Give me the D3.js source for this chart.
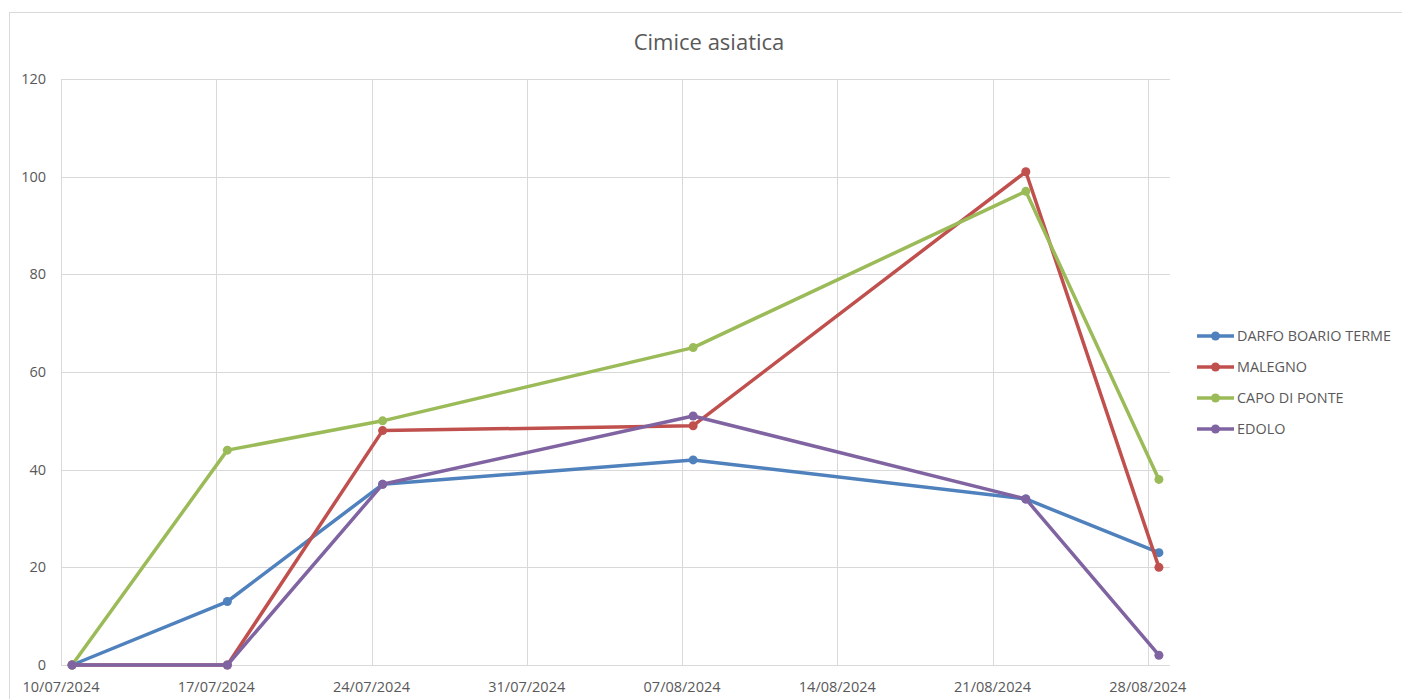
<!DOCTYPE html>
<html>
<head>
<meta charset="utf-8">
<script src="https://cdn.jsdelivr.net/npm/d3@7"></script>
<style>
  body { margin: 0; background: #fff; }
  svg { font-family: "Open Sans", "Noto Sans", sans-serif; }
</style>
</head>
<body>
<div id="chart"></div>
<script>
const width = 1402;
const height = 699;
const margin = { top: 79, right: 232, bottom: 34, left: 61 };

const dates = ["2024-07-10", "2024-07-17", "2024-07-24", "2024-08-07", "2024-08-22", "2024-08-28"];
const seriesNames = ["DARFO BOARIO TERME", "MALEGNO", "CAPO DI PONTE", "EDOLO"];
const darfo = [0, 13, 37, 42, 34, 23];
const malegno = [0, 0, 48, 49, 101, 20];
const capo = [0, 44, 50, 65, 97, 38];
const edolo = [0, 0, 37, 51, 34, 2];
const colors = ["#4f81bd", "#c0504d", "#9bbb59", "#8064a2"];
const yTicks = [0, 20, 40, 60, 80, 100, 120];
const xTickLabels = ["10/07/2024", "17/07/2024", "24/07/2024", "31/07/2024", "07/08/2024", "14/08/2024", "21/08/2024", "28/08/2024"];

const parse = d3.utcParse("%Y-%m-%d");
const parseTick = d3.utcParse("%d/%m/%Y");
const series = [darfo, malegno, capo, edolo].map((vals, i) => ({
  name: seriesNames[i],
  color: colors[i],
  values: vals.map((v, j) => ({ date: d3.utcHour.offset(parse(dates[j]), 12), value: v }))
}));
const xTicks = xTickLabels.map(parseTick);

const svg = d3.select("#chart").append("svg")
  .attr("width", width)
  .attr("height", height);

// chart frame
svg.append("rect")
  .attr("x", 9.5).attr("y", 12.5)
  .attr("width", width).attr("height", height)
  .attr("fill", "none")
  .attr("stroke", "#d9d9d9");

const x = d3.scaleUtc()
  .domain([xTicks[0], d3.utcDay.offset(xTicks[xTicks.length - 1], 1)])
  .range([margin.left, width - margin.right]);

const y = d3.scaleLinear()
  .domain([0, 120])
  .range([height - margin.bottom, margin.top]);

// gridlines
svg.append("g")
  .selectAll("line")
  .data(yTicks)
  .join("line")
  .attr("x1", margin.left).attr("x2", width - margin.right)
  .attr("y1", d => Math.round(y(d)) + 0.5).attr("y2", d => Math.round(y(d)) + 0.5)
  .attr("stroke", "#d9d9d9");

svg.append("g")
  .selectAll("line")
  .data(xTicks)
  .join("line")
  .attr("x1", d => Math.round(x(d)) + 0.5).attr("x2", d => Math.round(x(d)) + 0.5)
  .attr("y1", margin.top).attr("y2", height - margin.bottom)
  .attr("stroke", "#d9d9d9");

// axis labels
svg.append("g")
  .selectAll("text")
  .data(yTicks)
  .join("text")
  .attr("x", margin.left - 15)
  .attr("y", d => y(d) + 5)
  .attr("text-anchor", "end")
  .attr("font-size", 14.5)
  .attr("fill", "#595959")
  .text(d => d);

const fmt = d3.utcFormat("%d/%m/%Y");
svg.append("g")
  .selectAll("text")
  .data(xTicks)
  .join("text")
  .attr("x", d => x(d))
  .attr("y", height - margin.bottom + 27)
  .attr("text-anchor", "middle")
  .attr("font-size", 14.5)
  .attr("fill", "#595959")
  .text(d => fmt(d));

// lines
const line = d3.line()
  .x(d => x(d.date))
  .y(d => y(d.value));

const g = svg.append("g");
series.forEach(s => {
  g.append("path")
    .datum(s.values)
    .attr("d", line)
    .attr("fill", "none")
    .attr("stroke", s.color)
    .attr("stroke-width", 3.5)
    .attr("stroke-linejoin", "round")
    .attr("stroke-linecap", "round");
  g.selectAll(null)
    .data(s.values)
    .join("circle")
    .attr("cx", d => x(d.date))
    .attr("cy", d => y(d.value))
    .attr("r", 4.5)
    .attr("fill", s.color);
});

// title
svg.append("text")
  .attr("x", 709)
  .attr("y", 50)
  .attr("text-anchor", "middle")
  .attr("font-size", 22)
  .attr("fill", "#595959")
  .text("Cimice asiatica");

// legend
const legend = svg.append("g")
  .attr("transform", "translate(1197, 336)");

const item = legend.selectAll("g")
  .data(series)
  .join("g")
  .attr("transform", (d, i) => `translate(0, ${i * 31})`);

item.append("line")
  .attr("x1", 0).attr("x2", 37)
  .attr("stroke", d => d.color)
  .attr("stroke-width", 3.5);
item.append("circle")
  .attr("cx", 18.5)
  .attr("r", 4.5)
  .attr("fill", d => d.color);
item.append("text")
  .attr("x", 40)
  .attr("y", 5)
  .attr("font-size", 14.4)
  .attr("fill", "#595959")
  .text(d => d.name);
</script>
</body>
</html>
